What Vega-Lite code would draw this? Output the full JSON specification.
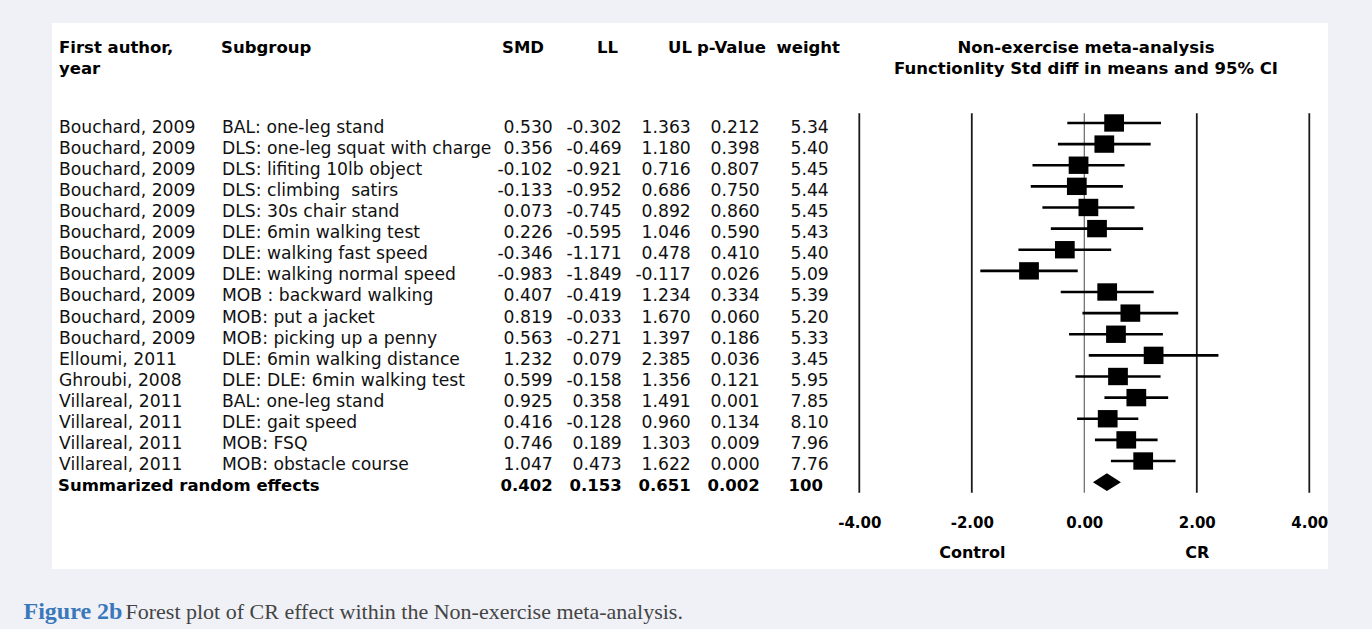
{
  "$schema": "https://vega.github.io/schema/vega-lite/v6.json",
  "width": 1276,
  "height": 546,
  "autosize": {"type": "none"},
  "padding": {"left": 52, "top": 23, "right": 44, "bottom": 60},
  "background": "#eff1f6",
  "datasets": {
    "studies": [
      {"row": 1, "kind": "study", "author": "Bouchard, 2009", "subgroup": "BAL: one-leg stand", "smd": 0.530, "ll": -0.302, "ul": 1.363, "p": 0.212, "weight": 5.34},
      {"row": 2, "kind": "study", "author": "Bouchard, 2009", "subgroup": "DLS: one-leg squat with charge", "smd": 0.356, "ll": -0.469, "ul": 1.180, "p": 0.398, "weight": 5.40},
      {"row": 3, "kind": "study", "author": "Bouchard, 2009", "subgroup": "DLS: lifiting 10lb object", "smd": -0.102, "ll": -0.921, "ul": 0.716, "p": 0.807, "weight": 5.45},
      {"row": 4, "kind": "study", "author": "Bouchard, 2009", "subgroup": "DLS: climbing\u00a0 satirs", "smd": -0.133, "ll": -0.952, "ul": 0.686, "p": 0.750, "weight": 5.44},
      {"row": 5, "kind": "study", "author": "Bouchard, 2009", "subgroup": "DLS: 30s chair stand", "smd": 0.073, "ll": -0.745, "ul": 0.892, "p": 0.860, "weight": 5.45},
      {"row": 6, "kind": "study", "author": "Bouchard, 2009", "subgroup": "DLE: 6min walking test", "smd": 0.226, "ll": -0.595, "ul": 1.046, "p": 0.590, "weight": 5.43},
      {"row": 7, "kind": "study", "author": "Bouchard, 2009", "subgroup": "DLE: walking fast speed", "smd": -0.346, "ll": -1.171, "ul": 0.478, "p": 0.410, "weight": 5.40},
      {"row": 8, "kind": "study", "author": "Bouchard, 2009", "subgroup": "DLE: walking normal speed", "smd": -0.983, "ll": -1.849, "ul": -0.117, "p": 0.026, "weight": 5.09},
      {"row": 9, "kind": "study", "author": "Bouchard, 2009", "subgroup": "MOB : backward walking", "smd": 0.407, "ll": -0.419, "ul": 1.234, "p": 0.334, "weight": 5.39},
      {"row": 10, "kind": "study", "author": "Bouchard, 2009", "subgroup": "MOB: put a jacket", "smd": 0.819, "ll": -0.033, "ul": 1.670, "p": 0.060, "weight": 5.20},
      {"row": 11, "kind": "study", "author": "Bouchard, 2009", "subgroup": "MOB: picking up a penny", "smd": 0.563, "ll": -0.271, "ul": 1.397, "p": 0.186, "weight": 5.33},
      {"row": 12, "kind": "study", "author": "Elloumi, 2011", "subgroup": "DLE: 6min walking distance", "smd": 1.232, "ll": 0.079, "ul": 2.385, "p": 0.036, "weight": 3.45},
      {"row": 13, "kind": "study", "author": "Ghroubi, 2008", "subgroup": "DLE: DLE: 6min walking test", "smd": 0.599, "ll": -0.158, "ul": 1.356, "p": 0.121, "weight": 5.95},
      {"row": 14, "kind": "study", "author": "Villareal, 2011", "subgroup": "BAL: one-leg stand", "smd": 0.925, "ll": 0.358, "ul": 1.491, "p": 0.001, "weight": 7.85},
      {"row": 15, "kind": "study", "author": "Villareal, 2011", "subgroup": "DLE: gait speed", "smd": 0.416, "ll": -0.128, "ul": 0.960, "p": 0.134, "weight": 8.10},
      {"row": 16, "kind": "study", "author": "Villareal, 2011", "subgroup": "MOB: FSQ", "smd": 0.746, "ll": 0.189, "ul": 1.303, "p": 0.009, "weight": 7.96},
      {"row": 17, "kind": "study", "author": "Villareal, 2011", "subgroup": "MOB: obstacle course", "smd": 1.047, "ll": 0.473, "ul": 1.622, "p": 0.000, "weight": 7.76},
      {"row": 18, "kind": "pooled", "author": "Summarized random effects", "subgroup": "", "smd": 0.402, "ll": 0.153, "ul": 0.651, "p": 0.002, "weight": 100}
    ],
    "headers": [
      {"col": "author", "line": 1, "text": "First author,"},
      {"col": "author", "line": 2, "text": "year"},
      {"col": "subgroup", "line": 1, "text": "Subgroup"},
      {"col": "smd", "line": 1, "text": "SMD"},
      {"col": "ll", "line": 1, "text": "LL"},
      {"col": "ul", "line": 1, "text": "UL"},
      {"col": "p", "line": 1, "text": "p-Value"},
      {"col": "weight", "line": 1, "text": "weight"},
      {"col": "plot", "line": 1, "text": "Non-exercise meta-analysis"},
      {"col": "plot", "line": 2, "text": "Functionlity Std diff in means and 95% CI"}
    ],
    "ticks": [{"v": -4}, {"v": -2}, {"v": 0}, {"v": 2}, {"v": 4}]
  },
  "resolve": {"scale": {"x": "independent", "y": "independent"}},
  "layer": [
    {
      "data": {"name": "ticks"},
      "mark": {"type": "rule"},
      "encoding": {
        "x": {
          "field": "v", "type": "quantitative",
          "scale": {"domain": [-4, 4], "range": [807.3, 1257.3], "nice": false, "zero": false},
          "axis": {"orient": "bottom", "values": [-4, -2, 0, 2, 4], "format": ".2f", "offset": -47, "domain": false, "ticks": false, "tickSize": 0, "grid": false, "labelPadding": 0, "labelBaseline": "middle", "labelFlush": false, "labelOverlap": false, "labelFont": "DejaVu Sans", "labelFontWeight": "bold", "labelFontSize": 15, "labelColor": "#000000",
            "title": "Figure 2b", "titleX": -29, "titleY": 96, "titleAlign": "left", "titleBaseline": "alphabetic", "titleAngle": 0, "titleFont": "Liberation Serif", "titleFontSize": 24, "titleFontWeight": "bold", "titleColor": "#3a78bb"}
        },
        "y": {"datum": 0, "type": "quantitative", "scale": {"domain": [0, 1], "range": [90.3, 469.7], "nice": false, "zero": false}, "axis": null},
        "y2": {"datum": 1},
        "color": {"condition": {"test": "datum.v === 0", "value": "#666666"}, "value": "#1a1a1a"},
        "strokeWidth": {"condition": {"test": "datum.v === 0", "value": 1.2}, "value": 1.8}
      }
    },
    {
      "data": {"name": "studies"},
      "transform": [{"filter": "datum.kind === 'study'"}],
      "mark": {"type": "rule", "strokeWidth": 2.6, "color": "#000000"},
      "encoding": {
        "x": {
          "field": "ll", "type": "quantitative",
          "scale": {"domain": [-4, 4], "range": [807.3, 1257.3], "nice": false, "zero": false},
          "axis": {"orient": "bottom", "values": [-2, 2], "labelExpr": "datum.value < 0 ? 'Control' : 'CR'", "offset": -17, "domain": false, "ticks": false, "tickSize": 0, "grid": false, "labelPadding": 0, "labelBaseline": "middle", "labelFlush": false, "labelOverlap": false, "labelFont": "DejaVu Sans", "labelFontWeight": "bold", "labelFontSize": 16, "labelColor": "#000000",
            "title": "Forest plot of CR effect within the Non-exercise meta-analysis.", "titleX": 73, "titleY": 66, "titleAlign": "left", "titleBaseline": "alphabetic", "titleAngle": 0, "titleFont": "Liberation Serif", "titleFontSize": 22, "titleFontWeight": "normal", "titleColor": "#444444"}
        },
        "x2": {"field": "ul"},
        "y": {"field": "row", "type": "ordinal", "scale": {"type": "band", "domain": [1,2,3,4,5,6,7,8,9,10,11,12,13,14,15,16,17,18], "range": [89.4, 469.7], "paddingInner": 0, "paddingOuter": 0}, "axis": null}
      }
    },
    {
      "data": {"name": "studies"},
      "transform": [{"filter": "datum.kind === 'study'"}],
      "mark": {"type": "point", "shape": "M-1,-0.88L1,-0.88L1,0.88L-1,0.88Z", "filled": true, "size": 390, "color": "#000000", "opacity": 1},
      "encoding": {
        "x": {"field": "smd", "type": "quantitative", "scale": {"domain": [-4, 4], "range": [807.3, 1257.3], "nice": false, "zero": false}, "axis": null},
        "y": {"field": "row", "type": "ordinal", "scale": {"type": "band", "domain": [1,2,3,4,5,6,7,8,9,10,11,12,13,14,15,16,17,18], "range": [89.4, 469.7], "paddingInner": 0, "paddingOuter": 0}, "axis": null}
      }
    },
    {
      "data": {"name": "studies"},
      "transform": [{"filter": "datum.kind === 'pooled'"}],
      "mark": {"type": "point", "shape": "M-1,0L0,-0.64L1,0L0,0.64Z", "filled": true, "size": 784, "color": "#000000", "opacity": 1},
      "encoding": {
        "x": {"field": "smd", "type": "quantitative", "scale": {"domain": [-4, 4], "range": [807.3, 1257.3], "nice": false, "zero": false}, "axis": null},
        "y": {"field": "row", "type": "ordinal", "scale": {"type": "band", "domain": [1,2,3,4,5,6,7,8,9,10,11,12,13,14,15,16,17,18], "range": [89.4, 469.7], "paddingInner": 0, "paddingOuter": 0}, "axis": null}
      }
    },
    {
      "data": {"name": "studies"},
      "transform": [{"filter": "datum.kind === 'study'"}, {"fold": ["author", "subgroup"], "as": ["col", "txt"]}],
      "mark": {"type": "text", "align": "left", "baseline": "middle", "font": "DejaVu Sans", "fontSize": 17.2, "color": "#111111"},
      "encoding": {
        "x": {"field": "col", "type": "nominal", "scale": {"type": "point", "domain": ["author", "subgroup"], "range": [7, 170], "padding": 0}, "axis": null},
        "y": {"field": "row", "type": "ordinal", "scale": {"type": "band", "domain": [1,2,3,4,5,6,7,8,9,10,11,12,13,14,15,16,17,18], "range": [94, 474], "paddingInner": 0, "paddingOuter": 0}, "axis": null},
        "text": {"field": "txt", "type": "nominal"}
      }
    },
    {
      "data": {"name": "studies"},
      "transform": [{"filter": "datum.kind === 'study'"}, {"fold": ["smd", "ll", "ul", "p"], "as": ["col", "val"]}],
      "mark": {"type": "text", "align": "right", "baseline": "middle", "font": "DejaVu Sans", "fontSize": 17.2, "color": "#111111"},
      "encoding": {
        "x": {"field": "col", "type": "nominal", "scale": {"type": "point", "domain": ["smd", "ll", "ul", "p", "weight"], "range": [500.8, 776.8], "padding": 0}, "axis": null},
        "y": {"field": "row", "type": "ordinal", "scale": {"type": "band", "domain": [1,2,3,4,5,6,7,8,9,10,11,12,13,14,15,16,17,18], "range": [94, 474], "paddingInner": 0, "paddingOuter": 0}, "axis": null},
        "text": {"field": "val", "type": "quantitative", "format": ".3f"}
      }
    },
    {
      "data": {"name": "studies"},
      "transform": [{"filter": "datum.kind === 'study'"}],
      "mark": {"type": "text", "align": "right", "baseline": "middle", "font": "DejaVu Sans", "fontSize": 17.2, "color": "#111111"},
      "encoding": {
        "x": {"datum": "weight", "type": "nominal", "scale": {"type": "point", "domain": ["smd", "ll", "ul", "p", "weight"], "range": [500.8, 776.8], "padding": 0}, "axis": null},
        "y": {"field": "row", "type": "ordinal", "scale": {"type": "band", "domain": [1,2,3,4,5,6,7,8,9,10,11,12,13,14,15,16,17,18], "range": [94, 474], "paddingInner": 0, "paddingOuter": 0}, "axis": null},
        "text": {"field": "weight", "type": "quantitative", "format": ".2f"}
      }
    },
    {
      "data": {"name": "studies"},
      "transform": [{"filter": "datum.kind === 'pooled'"}],
      "mark": {"type": "text", "align": "left", "baseline": "middle", "font": "DejaVu Sans", "fontSize": 16.5, "fontWeight": "bold", "color": "#000000"},
      "encoding": {
        "x": {"datum": "author", "type": "nominal", "scale": {"type": "point", "domain": ["author", "subgroup"], "range": [6, 170], "padding": 0}, "axis": null},
        "y": {"field": "row", "type": "ordinal", "scale": {"type": "band", "domain": [1,2,3,4,5,6,7,8,9,10,11,12,13,14,15,16,17,18], "range": [94, 474], "paddingInner": 0, "paddingOuter": 0}, "axis": null},
        "text": {"field": "author", "type": "nominal"}
      }
    },
    {
      "data": {"name": "studies"},
      "transform": [{"filter": "datum.kind === 'pooled'"}, {"fold": ["smd", "ll", "ul", "p"], "as": ["col", "val"]}],
      "mark": {"type": "text", "align": "right", "baseline": "middle", "font": "DejaVu Sans", "fontSize": 16.5, "fontWeight": "bold", "color": "#000000"},
      "encoding": {
        "x": {"field": "col", "type": "nominal", "scale": {"type": "point", "domain": ["smd", "ll", "ul", "p", "weight"], "range": [500.8, 776.8], "padding": 0}, "axis": null},
        "y": {"field": "row", "type": "ordinal", "scale": {"type": "band", "domain": [1,2,3,4,5,6,7,8,9,10,11,12,13,14,15,16,17,18], "range": [94, 474], "paddingInner": 0, "paddingOuter": 0}, "axis": null},
        "text": {"field": "val", "type": "quantitative", "format": ".3f"}
      }
    },
    {
      "data": {"name": "studies"},
      "transform": [{"filter": "datum.kind === 'pooled'"}],
      "mark": {"type": "text", "align": "right", "baseline": "middle", "font": "DejaVu Sans", "fontSize": 16.5, "fontWeight": "bold", "color": "#000000"},
      "encoding": {
        "x": {"datum": "weight", "type": "nominal", "scale": {"type": "point", "domain": ["smd", "ll", "ul", "p", "weight"], "range": [500.8, 771], "padding": 0}, "axis": null},
        "y": {"field": "row", "type": "ordinal", "scale": {"type": "band", "domain": [1,2,3,4,5,6,7,8,9,10,11,12,13,14,15,16,17,18], "range": [94, 474], "paddingInner": 0, "paddingOuter": 0}, "axis": null},
        "text": {"field": "weight", "type": "quantitative", "format": "d"}
      }
    },
    {
      "data": {"name": "headers"},
      "transform": [{"filter": "datum.col === 'author' || datum.col === 'subgroup'"}],
      "mark": {"type": "text", "align": "left", "baseline": "middle", "font": "DejaVu Sans", "fontSize": 16.5, "fontWeight": "bold", "color": "#000000"},
      "encoding": {
        "x": {"field": "col", "type": "nominal", "scale": {"type": "point", "domain": ["author", "subgroup"], "range": [7, 169], "padding": 0}, "axis": null},
        "y": {"field": "line", "type": "ordinal", "scale": {"type": "point", "domain": [1, 2], "range": [24.5, 46], "padding": 0}, "axis": null},
        "text": {"field": "text", "type": "nominal"}
      }
    },
    {
      "data": {"name": "headers"},
      "transform": [{"filter": "indexof(['smd','ll','ul','p','weight'], datum.col) >= 0"}],
      "mark": {"type": "text", "align": "right", "baseline": "middle", "font": "DejaVu Sans", "fontSize": 16.5, "fontWeight": "bold", "color": "#000000"},
      "encoding": {
        "x": {"field": "col", "type": "nominal", "scale": {"type": "point", "domain": ["smd", "ll", "ul", "p", "weight"], "range": [492, 788], "padding": 0}, "axis": null},
        "y": {"field": "line", "type": "ordinal", "scale": {"type": "point", "domain": [1, 2], "range": [24.5, 46], "padding": 0}, "axis": null},
        "text": {"field": "text", "type": "nominal"}
      }
    },
    {
      "data": {"name": "headers"},
      "transform": [{"filter": "datum.col === 'plot'"}],
      "mark": {"type": "text", "align": "center", "baseline": "middle", "font": "DejaVu Sans", "fontSize": 16.5, "fontWeight": "bold", "color": "#000000"},
      "encoding": {
        "x": {"datum": 0, "type": "quantitative", "scale": {"domain": [-4, 4], "range": [809, 1259], "nice": false, "zero": false}, "axis": null},
        "y": {"field": "line", "type": "ordinal", "scale": {"type": "point", "domain": [1, 2], "range": [24.5, 46], "padding": 0}, "axis": null},
        "text": {"field": "text", "type": "nominal"}
      }
    }
  ],
  "config": {
    "view": {"stroke": null, "fill": "white"},
    "locale": {"number": {"decimal": ".", "thousands": ",", "grouping": [3], "currency": ["$", ""], "minus": "-"}},
    "text": {"font": "DejaVu Sans"}
  }
}
